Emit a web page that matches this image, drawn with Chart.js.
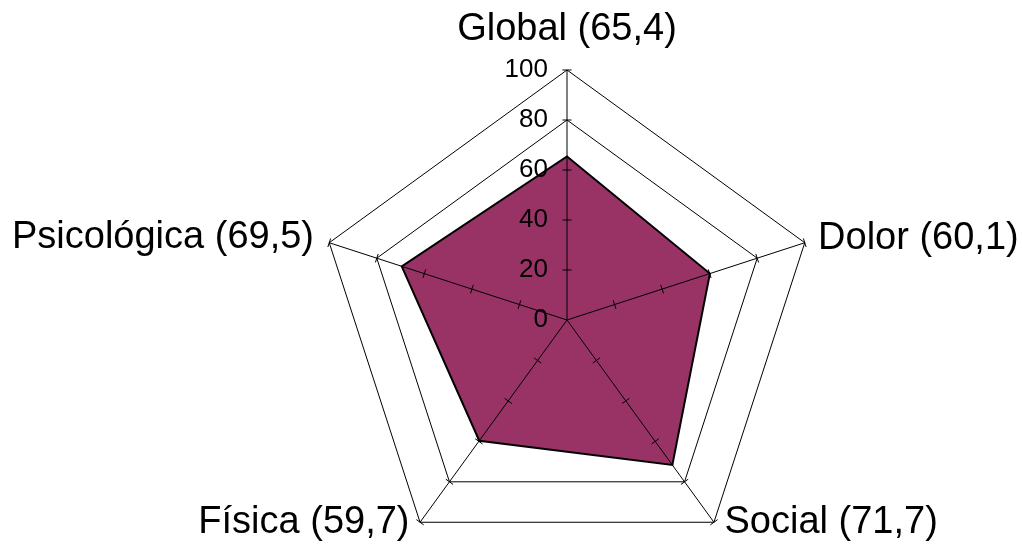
<!DOCTYPE html>
<html>
<head>
<meta charset="utf-8">
<script src="https://cdn.jsdelivr.net/npm/chart.js@4"></script>
<style>
  html, body { margin: 0; padding: 0; background: #fff; overflow: hidden; width: 1022px; height: 544px; }
  #c { position: absolute; left: -8px; top: 10px; }
</style>
</head>
<body>
<canvas id="c" width="1114" height="580"></canvas>
<script>
// ---- data ----
const CATEGORIES = ['Global (65,4)', 'Dolor (60,1)', 'Social (71,7)', 'Física (59,7)', 'Psicológica (69,5)'];
const VALUES = [65.4, 60.1, 71.7, 59.7, 69.5];
const TICK_VALUES = [0, 20, 40, 60, 80, 100];
const AXIS_MIN = 0;
const AXIS_MAX = 100;

// ---- styling / layout ----
const LABEL_PAD = [40, 14, 0, 0, 16];
const FONT_FAMILY = '"Liberation Sans", Arial, Helvetica, sans-serif';

const axisOverlay = {
  id: 'axisOverlay',
  afterDatasetsDraw(chart) {
    const s = chart.scales.r;
    const ctx = chart.ctx;
    ctx.save();
    ctx.strokeStyle = '#000';
    ctx.lineWidth = 1;
    for (let i = 0; i < CATEGORIES.length; i++) {
      const o = s.getPointPositionForValue(i, AXIS_MIN);
      const e = s.getPointPositionForValue(i, AXIS_MAX);
      ctx.beginPath();
      ctx.moveTo(o.x, o.y);
      ctx.lineTo(e.x, e.y);
      ctx.stroke();
      for (const v of TICK_VALUES) {
        if (v === AXIS_MIN) continue;
        const p = s.getPointPositionForValue(i, v);
        const dx = -Math.sin(p.angle) * 4.5, dy = Math.cos(p.angle) * 4.5;
        ctx.beginPath();
        ctx.moveTo(p.x - dx, p.y - dy);
        ctx.lineTo(p.x + dx, p.y + dy);
        ctx.stroke();
      }
    }
    ctx.fillStyle = '#000';
    ctx.font = '26px ' + FONT_FAMILY;
    ctx.textAlign = 'right';
    ctx.textBaseline = 'middle';
    for (const v of TICK_VALUES) {
      ctx.fillText(String(v), s.xCenter - 19, s.yCenter - s.getDistanceFromCenterForValue(v));
    }
    ctx.restore();
  }
};

new Chart(document.getElementById('c'), {
  type: 'radar',
  data: {
    labels: CATEGORIES,
    datasets: [{
      data: VALUES,
      backgroundColor: '#993366',
      borderColor: '#000000',
      borderWidth: 2,
      pointRadius: 0,
      pointHoverRadius: 0,
      fill: true,
      tension: 0
    }]
  },
  options: {
    responsive: false,
    animation: false,
    layout: { padding: 0 },
    plugins: { legend: { display: false }, tooltip: { enabled: false }, title: { display: false } },
    scales: {
      r: {
        min: AXIS_MIN,
        max: AXIS_MAX,
        startAngle: 0,
        ticks: { display: false, stepSize: 20 },
        grid: { color: '#000', lineWidth: 1 },
        angleLines: { display: false },
        pointLabels: {
          color: '#000',
          font: { size: 38, family: FONT_FAMILY, lineHeight: 0 },
          padding: (ctx) => LABEL_PAD[ctx.index],
          callback: (label, i) => i === 2 ? ' ' + label : (i === 3 ? label + ' ' : label)
        }
      }
    }
  },
  plugins: [axisOverlay]
});
</script>
</body>
</html>
